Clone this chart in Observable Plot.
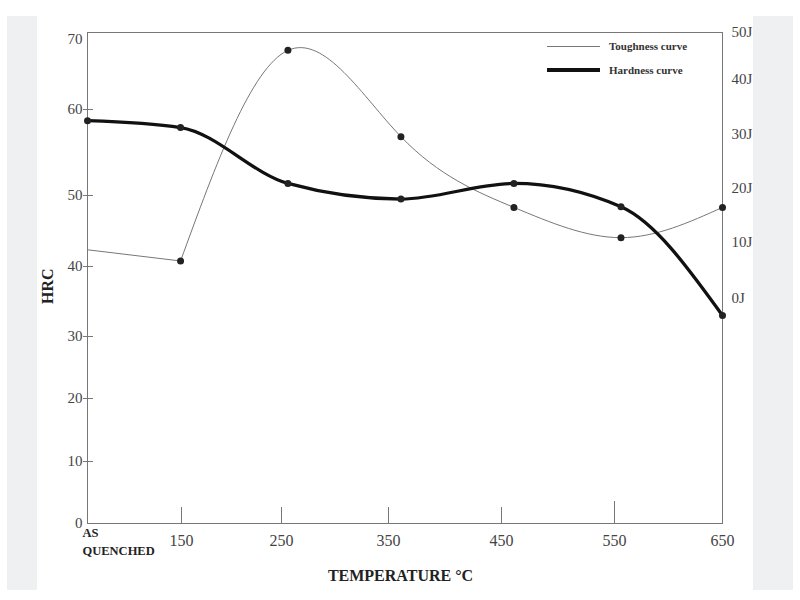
<!DOCTYPE html>
<html><head><meta charset="utf-8">
<script src="https://cdn.jsdelivr.net/npm/d3@7"></script>
<script src="https://cdn.jsdelivr.net/npm/@observablehq/plot@0.6"></script>
<style>
html,body{margin:0;padding:0;background:#fff;width:800px;height:600px;overflow:hidden}
#wrap{position:relative;width:800px;height:600px}
.strip{position:absolute;top:16px;height:574px;background:#eff0f2}
#chart{position:absolute;left:0;top:0}
#legend{position:absolute;left:547px;top:34px;font-family:"Liberation Serif",serif;font-weight:bold;font-size:11px;color:#333}
.row{display:flex;align-items:center;height:24px}
.sw{width:53px;margin-right:9px;background:#777}
</style></head><body>
<div id="wrap">
<div class="strip" style="left:7px;width:30px"></div>
<div class="strip" style="left:753px;width:40px"></div>
<div id="chart"></div>
<div id="legend">
  <div class="row"><div class="sw" style="height:1px"></div><span>Toughness curve</span></div>
  <div class="row"><div class="sw" style="height:3.5px;background:#111"></div><span>Hardness curve</span></div>
</div>
</div>
<script>
// Tempering temperature (°C); 50 stands for the "AS QUENCHED" state
const temps = [50, 149, 256, 361, 461, 556, 650];
// Hardness (HRC)
const hardness = [58.7, 57.9, 51.4, 49.5, 51.4, 48.4, 33.0];
// Toughness (J)
const toughness = [8.7, 6.7, 46.2, 29.6, 16.5, 10.9, 16.5];
// Axis ticks
const xTicks = [150, 250, 350, 450, 550, 650];
const hrcTicks = [0, 10, 20, 30, 40, 50, 60, 70];
const jTicks = [0, 10, 20, 30, 40, 50];

// Scales (the scanned figure's axes are not evenly spaced, so piecewise)
const xDomain = [50, 150, 250, 350, 450, 550, 650];
const xRange = [87, 181, 281, 388, 501, 614, 722];
const yRange = [523, 461, 398, 336, 266, 195, 109, 39];
const jRange = [298, 242, 188, 134, 79, 32];
const yScale = d3.scaleLinear().domain(hrcTicks).range(yRange);
const jScale = d3.scaleLinear().domain(jTicks).range(jRange);
const jToHRC = j => yScale.invert(jScale(j));

const hData = temps.map((t, i) => ({t, v: hardness[i]}));
const tData = temps.map((t, i) => ({t, v: jToHRC(toughness[i])}));

const chart = Plot.plot({
  width: 800, height: 600,
  marginLeft: 87, marginRight: 78, marginTop: 32, marginBottom: 77,
  style: {background: "transparent", fontFamily: "'Liberation Serif', serif", fontSize: "15px", color: "#444"},
  x: {type: "linear", domain: xDomain, range: xRange},
  y: {type: "linear", domain: hrcTicks, range: yRange},
  marks: [
    Plot.frame({stroke: "#777"}),
    Plot.tickX(xTicks.slice(0, 4), {x: d => d, insetTop: 475, stroke: "#777"}),
    Plot.tickX([550], {x: d => d, insetTop: 469, stroke: "#777"}),
    Plot.tickY(hrcTicks.slice(1, 7), {y: d => d, insetLeft: -4, insetRight: 629, stroke: "#777"}),
    Plot.axisY(hrcTicks, {anchor: "left", tickSize: 0, tickPadding: 5, label: null, fontSize: 15}),
    Plot.axisY(jTicks.map(jToHRC), {anchor: "right", tickSize: 0, tickPadding: 9, label: null, fontSize: 15,
      tickFormat: d => Math.round(jScale.invert(yScale(d))) + "J"}),
    Plot.axisX(xTicks, {anchor: "bottom", tickSize: 0, tickPadding: 11, label: null, fontSize: 16}),
    Plot.text([{t: 50, v: 0, s: "AS\nQUENCHED"}], {x: "t", y: "v", text: "s", textAnchor: "start", lineAnchor: "top",
      dx: -5, dy: 1, fontWeight: "bold", fontSize: 12.5, lineHeight: 1.45, fill: "#222"}),
    Plot.text(["TEMPERATURE °C"], {frameAnchor: "bottom", dx: -4.5, dy: 57, fontWeight: "bold", fontSize: 16, fill: "#222"}),
    Plot.text(["HRC"], {frameAnchor: "left", rotate: -90, dx: -40, dy: 26, fontWeight: "bold", fontSize: 16, fill: "#222"}),
    // Toughness curve
    Plot.line(tData.slice(0, 2), {x: "t", y: "v", stroke: "#777", strokeWidth: 1}),
    Plot.line(tData.slice(1), {x: "t", y: "v", stroke: "#777", strokeWidth: 1, curve: "natural"}),
    Plot.dot(tData.slice(1), {x: "t", y: "v", r: 3.5, fill: "#222"}),
    // Hardness curve
    Plot.line(hData, {x: "t", y: "v", stroke: "#111", strokeWidth: 3.3, curve: "monotone-x"}),
    Plot.dot(hData, {x: "t", y: "v", r: 3.5, fill: "#222"})
  ]
});
document.getElementById("chart").appendChild(chart);
</script>
</body></html>
